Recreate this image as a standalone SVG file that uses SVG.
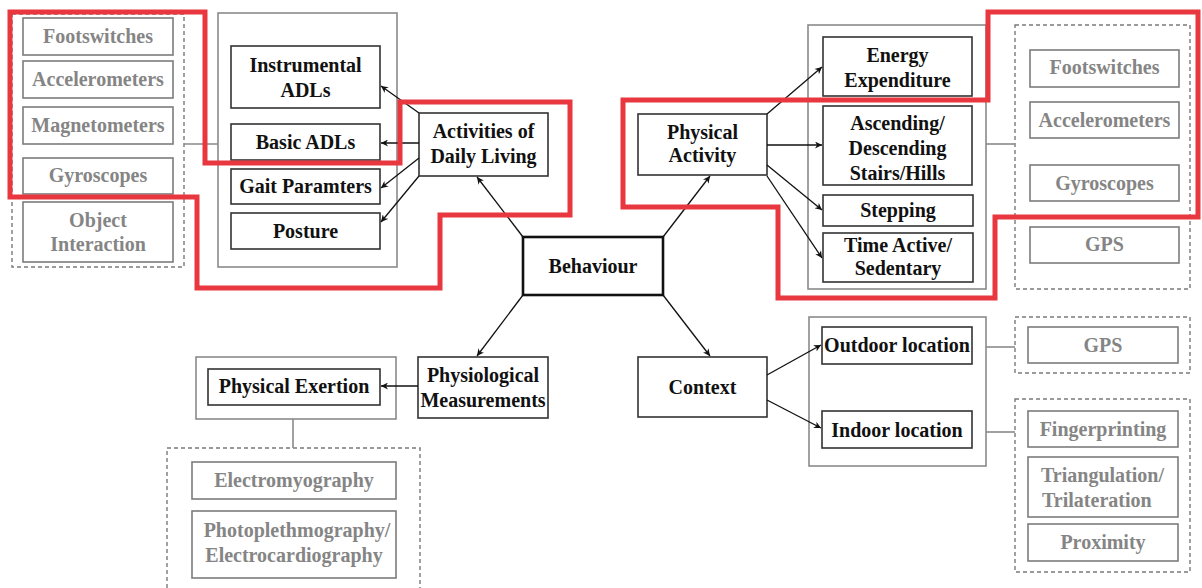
<svg xmlns="http://www.w3.org/2000/svg" width="1202" height="588" viewBox="0 0 1202 588">
  <defs>
    <marker id="arrow" viewBox="0 0 10 10" refX="10" refY="5" markerWidth="9" markerHeight="7" markerUnits="userSpaceOnUse" orient="auto">
      <path d="M0,0 L10,5 L0,10 L3,5 z" fill="#111"/>
    </marker>
    <style>
      text { font-family: "Liberation Serif", "Times New Roman", serif; font-weight: bold; font-size: 20px; text-anchor: middle; }
      .dark text, text.dark { fill: #111; }
      .grey text, text.grey { fill: #858585; }
      .box { fill: #fff; stroke: #333; stroke-width: 1.6; }
      .main { fill: #fff; stroke: #111; stroke-width: 2.6; }
      .sbox { fill: #fff; stroke: #7c7c7c; stroke-width: 1.6; }
      .frame { fill: none; stroke: #8a8a8a; stroke-width: 1.6; }
      .dash { fill: none; stroke: #7a7a7a; stroke-width: 1.4; stroke-dasharray: 4 3; }
      .link { stroke: #8a8a8a; stroke-width: 1.6; fill: none; }
      .arr { stroke: #111; stroke-width: 1.3; fill: none; marker-end: url(#arrow); }
      .mark { fill: none; stroke: #e8373f; stroke-width: 5; stroke-linejoin: miter; }
    </style>
  </defs>
  <rect width="1202" height="588" fill="#fff"/>

  <!-- sensors for daily living activities -->
  <g id="adl-sensors" class="grey">
    <rect class="dash" x="12" y="14" width="172" height="253"/>
    <rect class="sbox" x="23" y="18" width="150" height="37"/>
    <text x="98" y="43">Footswitches</text>
    <rect class="sbox" x="23" y="61" width="150" height="37"/>
    <text x="98" y="86">Accelerometers</text>
    <rect class="sbox" x="23" y="107" width="150" height="37"/>
    <text x="98" y="132">Magnetometers</text>
    <rect class="sbox" x="23" y="158" width="150" height="36"/>
    <text x="98" y="182">Gyroscopes</text>
    <rect class="sbox" x="23" y="202" width="150" height="60"/>
    <text x="98" y="227">Object</text>
    <text x="98" y="251">Interaction</text>
  </g>

  <!-- daily living activity types -->
  <g id="adl-types" class="dark">
    <rect class="frame" x="218" y="13" width="179" height="254"/>
    <rect class="box" x="231" y="46" width="149" height="62"/>
    <text x="305.5" y="72">Instrumental</text>
    <text x="305.5" y="97">ADLs</text>
    <rect class="box" x="231" y="124" width="149" height="36"/>
    <text x="305.5" y="149">Basic ADLs</text>
    <rect class="box" x="231" y="169" width="149" height="35"/>
    <text x="305.5" y="193">Gait Paramters</text>
    <rect class="box" x="231" y="213" width="149" height="36"/>
    <text x="305.5" y="238">Posture</text>
  </g>

  <g id="adl" class="dark">
    <rect class="box" x="419" y="113" width="129" height="63"/>
    <text x="483.5" y="138">Activities of</text>
    <text x="483.5" y="163">Daily Living</text>
  </g>

  <g id="behaviour" class="dark">
    <rect class="main" x="523" y="237" width="140" height="58"/>
    <text x="593" y="273">Behaviour</text>
  </g>

  <g id="physical-activity" class="dark">
    <rect class="box" x="638" y="114" width="129" height="61"/>
    <text x="702.5" y="139">Physical</text>
    <text x="702.5" y="162">Activity</text>
  </g>

  <!-- physical activity measures -->
  <g id="pa-types" class="dark">
    <rect class="frame" x="808" y="25" width="178" height="264"/>
    <rect class="box" x="823" y="37" width="149" height="59"/>
    <text x="897.5" y="62">Energy</text>
    <text x="897.5" y="87">Expenditure</text>
    <rect class="box" x="823" y="106" width="149" height="79"/>
    <text x="897.5" y="130">Ascending/</text>
    <text x="897.5" y="155">Descending</text>
    <text x="897.5" y="180">Stairs/Hills</text>
    <rect class="box" x="823" y="195" width="150" height="31"/>
    <text x="898" y="217">Stepping</text>
    <rect class="box" x="823" y="233" width="150" height="49"/>
    <text x="898" y="252">Time Active/</text>
    <text x="898" y="275">Sedentary</text>
  </g>

  <g id="pa-sensors" class="grey">
    <rect class="dash" x="1015" y="25" width="175" height="264"/>
    <rect class="sbox" x="1030" y="50" width="149" height="37"/>
    <text x="1104.5" y="74">Footswitches</text>
    <rect class="sbox" x="1030" y="102" width="149" height="36"/>
    <text x="1104.5" y="127">Accelerometers</text>
    <rect class="sbox" x="1030" y="165" width="149" height="36"/>
    <text x="1104.5" y="190">Gyroscopes</text>
    <rect class="sbox" x="1030" y="227" width="149" height="36"/>
    <text x="1104.5" y="251">GPS</text>
  </g>

  <g id="physiological" class="dark">
    <rect class="box" x="418" y="357" width="130" height="61"/>
    <text x="483" y="382">Physiological</text>
    <text x="483" y="407">Measurements</text>
  </g>

  <g id="exertion" class="dark">
    <rect class="frame" x="196" y="357" width="200" height="62"/>
    <rect class="box" x="208" y="369" width="172" height="36"/>
    <text x="294" y="393">Physical Exertion</text>
  </g>

  <g id="exertion-sensors" class="grey">
    <rect class="dash" x="167" y="448" width="253" height="160"/>
    <rect class="sbox" x="192" y="462" width="204" height="37"/>
    <text x="294" y="487">Electromyography</text>
    <rect class="sbox" x="192" y="511" width="204" height="67"/>
    <text x="297" y="537">Photoplethmography/</text>
    <text x="294" y="562">Electrocardiography</text>
  </g>

  <g id="context" class="dark">
    <rect class="box" x="638" y="357" width="129" height="60"/>
    <text x="702.5" y="394">Context</text>
  </g>

  <g id="locations" class="dark">
    <rect class="frame" x="809" y="317" width="177" height="149"/>
    <rect class="box" x="822" y="327" width="150" height="37"/>
    <text x="897" y="352">Outdoor location</text>
    <rect class="box" x="822" y="411" width="150" height="37"/>
    <text x="897" y="437">Indoor location</text>
  </g>

  <g id="outdoor-sensors" class="grey">
    <rect class="dash" x="1015" y="317" width="175" height="56"/>
    <rect class="sbox" x="1028" y="327" width="150" height="36"/>
    <text x="1103" y="352">GPS</text>
  </g>

  <g id="indoor-sensors" class="grey">
    <rect class="dash" x="1015" y="399" width="175" height="173"/>
    <rect class="sbox" x="1028" y="411" width="150" height="36"/>
    <text x="1103" y="436">Fingerprinting</text>
    <rect class="sbox" x="1028" y="457" width="150" height="60"/>
    <text x="1041" y="482" style="text-anchor:start">Triangulation/</text>
    <text x="1042" y="507" style="text-anchor:start">Trilateration</text>
    <rect class="sbox" x="1028" y="524" width="150" height="37"/>
    <text x="1103" y="549">Proximity</text>
  </g>

  <!-- connectors -->
  <g id="connectors">
    <line class="link" x1="184" y1="144" x2="218" y2="144"/>
    <line class="link" x1="986" y1="144" x2="1015" y2="144"/>
    <line class="link" x1="293" y1="419" x2="293" y2="448"/>
    <line class="link" x1="986" y1="347" x2="1015" y2="347"/>
    <line class="link" x1="986" y1="432" x2="1015" y2="432"/>

    <line class="arr" x1="523" y1="237" x2="477" y2="177"/>
    <line class="arr" x1="419" y1="113" x2="381" y2="86"/>
    <line class="arr" x1="419" y1="143" x2="381" y2="143"/>
    <line class="arr" x1="419" y1="158" x2="381" y2="188"/>
    <line class="arr" x1="419" y1="176" x2="381" y2="222"/>

    <line class="arr" x1="663" y1="237" x2="710" y2="176"/>
    <line class="arr" x1="767" y1="114" x2="822" y2="67"/>
    <line class="arr" x1="767" y1="145" x2="822" y2="145"/>
    <line class="arr" x1="767" y1="165" x2="822" y2="210"/>
    <line class="arr" x1="767" y1="176" x2="822" y2="258"/>

    <line class="arr" x1="523" y1="295" x2="477" y2="356"/>
    <line class="arr" x1="418" y1="386" x2="381" y2="386"/>

    <line class="arr" x1="663" y1="295" x2="710" y2="356"/>
    <line class="arr" x1="767" y1="375" x2="821" y2="345"/>
    <line class="arr" x1="767" y1="400" x2="821" y2="428"/>
  </g>

  <!-- red highlight outlines -->
  <g id="highlights">
    <polygon class="mark" points="10,12 205,12 205,163 400,163 400,102 570,102 570,215 440,215 440,288 197,288 197,197 10,197"/>
    <polygon class="mark" points="623,100 988,100 988,12 1198,12 1198,217 995,217 995,298 778,298 778,207 623,207"/>
  </g>
</svg>
